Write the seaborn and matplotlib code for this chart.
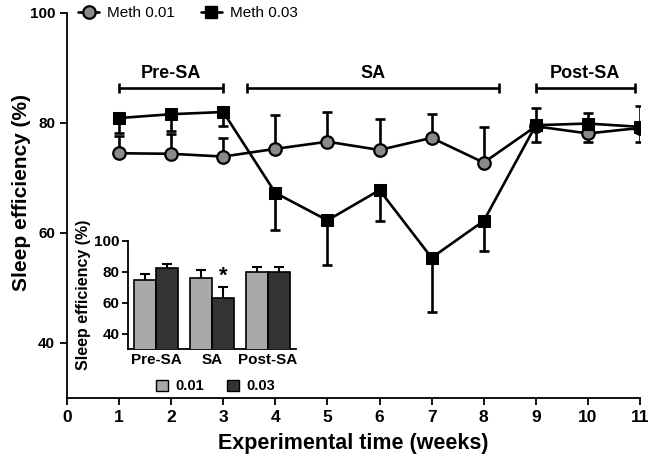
import numpy as np
import pandas as pd
import matplotlib
matplotlib.use("Agg")
import matplotlib.pyplot as plt
from matplotlib.lines import Line2D
from matplotlib.patches import Patch
import seaborn as sns

# ---------------- data ----------------
weeks = [1, 2, 3, 4, 5, 6, 7, 8, 9, 10, 11]
meth001 = [74.5, 74.4, 73.9, 75.3, 76.6, 75.1, 77.3, 72.8, 79.4, 78.1, 79.1]
meth001_err = [3.1, 3.6, 3.4, 6.2, 5.4, 5.6, 4.3, 6.5, 2.8, 1.5, 2.5]
meth003 = [80.9, 81.6, 82.0, 67.3, 62.3, 67.8, 55.5, 62.2, 79.6, 79.9, 79.3]
meth003_err = [2.7, 3.1, 2.5, 6.8, 8.2, 5.7, 9.8, 5.5, 3.1, 1.9, 3.8]
# error direction (True = up)
meth001_up = [True] * 8 + [False] * 3
meth003_up = [False] * 8 + [True] * 3

phase_labels = ["Pre-SA", "SA", "Post-SA"]
phase_start = [1, 3.45, 9]
phase_end = [3, 8.3, 10.9]

inset_phases = ["Pre-SA", "SA", "Post-SA"]
inset_001 = [74.6, 75.9, 79.6]
inset_001_err = [3.9, 5.6, 3.6]
inset_003 = [82.2, 63.2, 80.2]
inset_003_err = [3.0, 6.9, 3.0]

# ---------------- style ----------------
sns.set_theme(style="ticks")
plt.rcParams["font.family"] = ["Liberation Sans", "DejaVu Sans"]
plt.rcParams["axes.linewidth"] = 1.3
plt.rcParams["xtick.major.width"] = 1.3
plt.rcParams["ytick.major.width"] = 1.3
for k in ["xtick.color", "ytick.color", "axes.edgecolor", "text.color",
          "axes.labelcolor", "xtick.labelcolor", "ytick.labelcolor"]:
    plt.rcParams[k] = "black"

fig = plt.figure(figsize=(6.54, 4.63), dpi=100)
ax = fig.add_axes([67 / 654, (463 - 398) / 463, (640 - 67) / 654, (398 - 13) / 463])


def one_sided(a, x, y, err, up, **kw):
    x = np.asarray(x, float)
    y = np.asarray(y, float)
    err = np.asarray(err, float)
    z = np.zeros_like(err)
    yerr = [z, err] if up else [err, z]
    _, caps, _ = a.errorbar(x, y, yerr=yerr, fmt="none", **kw)
    for c in caps:
        if np.allclose(c.get_ydata(), y):
            c.set_visible(False)


ekw = dict(ecolor="black", elinewidth=1.9, capsize=3.8, capthick=1.9, zorder=2)
for vals, errs, ups in [(meth001, meth001_err, meth001_up), (meth003, meth003_err, meth003_up)]:
    w = np.array(weeks)
    v = np.array(vals)
    e = np.array(errs)
    u = np.array(ups)
    one_sided(ax, w[u], v[u], e[u], True, **ekw)
    one_sided(ax, w[~u], v[~u], e[~u], False, **ekw)

df = pd.DataFrame({"week": weeks * 2,
                   "value": meth001 + meth003,
                   "series": ["Meth 0.01"] * len(weeks) + ["Meth 0.03"] * len(weeks)})

sns.lineplot(data=df[df.series == "Meth 0.01"], x="week", y="value", ax=ax,
             color="black", linewidth=1.9, marker="o", markersize=9,
             markerfacecolor="#8a8a8a", markeredgecolor="black", markeredgewidth=1.6,
             zorder=4, errorbar=None)
sns.lineplot(data=df[df.series == "Meth 0.03"], x="week", y="value", ax=ax,
             color="black", linewidth=1.9, marker="s", markersize=8,
             markerfacecolor="black", markeredgecolor="black",
             zorder=5, errorbar=None)

# phase brackets
for lab, s, e in zip(phase_labels, phase_start, phase_end):
    mid = (s + e) / 2
    ax.errorbar([mid], [86.3], xerr=[(e - s) / 2], fmt="none", ecolor="black",
                elinewidth=1.9, capsize=3.5, capthick=1.9)
    ax.text(mid, 87.4, lab, ha="center", va="bottom", fontsize=13, fontweight="bold")

ax.set_xlim(0, 11)
ax.set_ylim(30, 100)
ax.set_xticks(range(0, 12))
ax.set_yticks([40, 60, 80, 100])
sns.despine(ax=ax)
ax.tick_params(axis="both", length=5, direction="out", colors="black")
for t in ax.get_xticklabels():
    t.set_fontsize(12.5)
    t.set_fontweight("bold")
for t in ax.get_yticklabels():
    t.set_fontsize(11)
    t.set_fontweight("bold")
ax.set_xlabel("Experimental time (weeks)", fontsize=15.5, fontweight="bold", labelpad=6)
ax.set_ylabel("Sleep efficiency (%)", fontsize=15, fontweight="bold")
ax.yaxis.set_label_coords(-0.062, 0.535)

# legend top
h1 = Line2D([0], [0], color="black", lw=1.9, marker="o", markersize=9,
            markerfacecolor="#8a8a8a", markeredgecolor="black", markeredgewidth=1.6)
h2 = Line2D([0], [0], color="black", lw=1.9, marker="s", markersize=8,
            markerfacecolor="black", markeredgecolor="black")
fig.legend([h1, h2], ["Meth 0.01", "Meth 0.03"], loc="center left",
           bbox_to_anchor=(0.098, 0.971), ncol=2, frameon=False, fontsize=11,
           handlelength=1.4, columnspacing=1.7, handletextpad=0.5)

# ---------------- inset ----------------
axin = fig.add_axes([128 / 654, (463 - 349) / 463, (296 - 128) / 654, (349 - 241) / 463])
dfi = pd.DataFrame({"phase": inset_phases * 2,
                    "value": inset_001 + inset_003,
                    "dose": ["0.01"] * 3 + ["0.03"] * 3})
sns.barplot(data=dfi, x="phase", y="value", hue="dose", ax=axin,
            palette={"0.01": "#a9a9a9", "0.03": "#333333"}, edgecolor="black",
            linewidth=1.2, errorbar=None, legend=False, saturation=1, zorder=3)

patches = sorted(axin.patches, key=lambda p: p.get_x())
bar_x = [p.get_x() + p.get_width() / 2 for p in patches]
bar_y = [p.get_height() for p in patches]
errs = [inset_001_err[0], inset_003_err[0], inset_001_err[1], inset_003_err[1],
        inset_001_err[2], inset_003_err[2]]
one_sided(axin, bar_x, bar_y, errs, True, ecolor="black", elinewidth=1.5,
          capsize=3.8, capthick=1.5, zorder=2)
axin.text(bar_x[3], bar_y[3] + errs[3] + 0.5, "*", ha="center", va="bottom",
          fontsize=16, fontweight="bold")

axin.set_ylim(30, 100)
axin.set_xlim(-0.5, 2.5)
axin.set_yticks([40, 60, 80, 100])
sns.despine(ax=axin)
axin.set_facecolor("none")
axin.tick_params(axis="y", length=4, pad=2, colors="black")
axin.tick_params(axis="x", length=0, pad=3, colors="black")
for t in axin.get_xticklabels() + axin.get_yticklabels():
    t.set_fontsize(11)
    t.set_fontweight("bold")
axin.set_xlabel("")
axin.set_ylabel("Sleep efficiency (%)", fontsize=11.5, fontweight="bold", labelpad=2)
axin.legend([Patch(facecolor="#a9a9a9", edgecolor="black"),
             Patch(facecolor="#333333", edgecolor="black")],
            ["0.01", "0.03"], loc="upper center", bbox_to_anchor=(0.52, -0.16),
            ncol=2, frameon=False, prop={"weight": "bold", "size": 10.5},
            handlelength=0.8, handleheight=0.8, columnspacing=1.6, handletextpad=0.5)

fig.savefig("out.png", dpi=100)
